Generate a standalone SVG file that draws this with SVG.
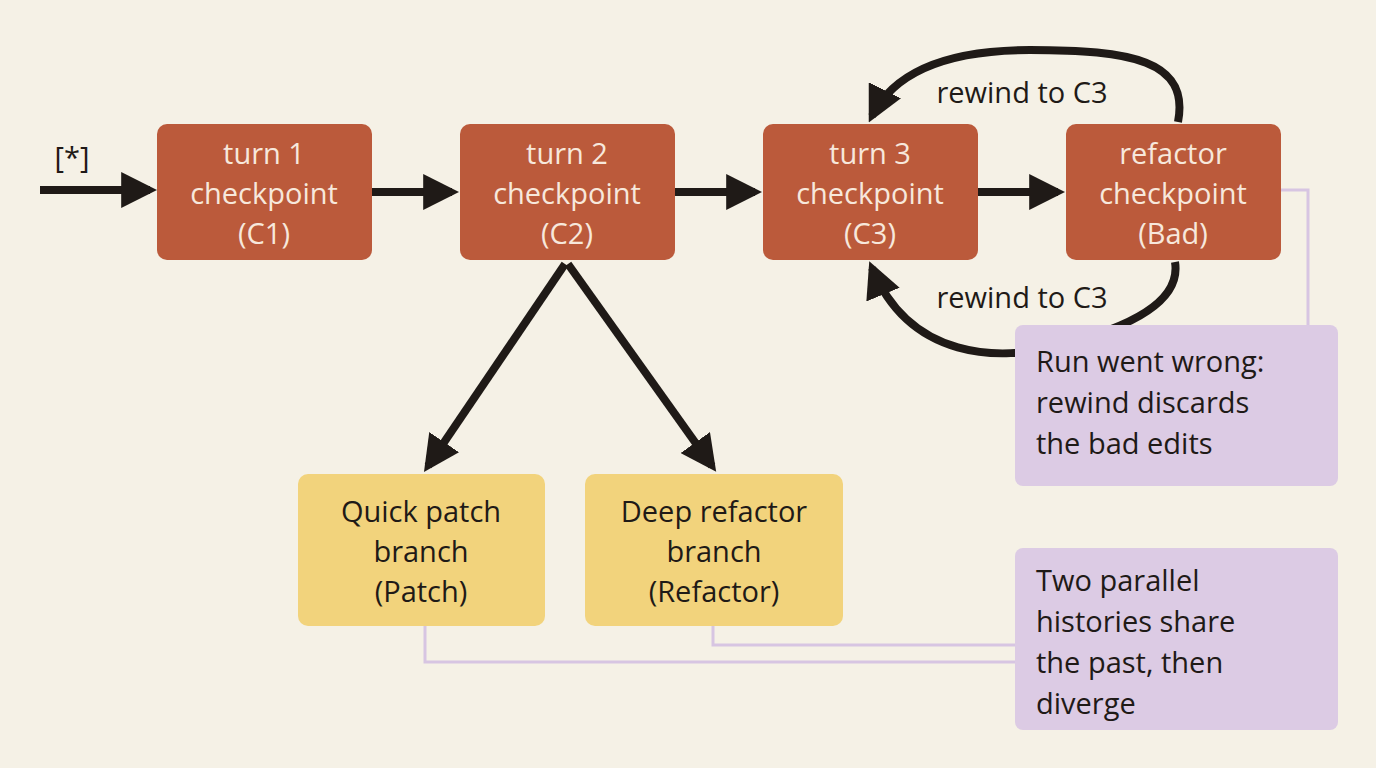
<svg xmlns="http://www.w3.org/2000/svg" width="1376" height="768" viewBox="0 0 1376 768">
<defs>
<marker id="ah" viewBox="0 0 10 10" refX="8" refY="5" markerWidth="4.5" markerHeight="4.5" orient="auto" markerUnits="strokeWidth"><path d="M0,0 L10,5 L0,10 z" fill="#1f1a17"/></marker>
<style>
.c{fill:#bb5a3b}.y{fill:#f2d37c}.n{fill:#dccbe4}
.t{font-family:"Open Sans","Liberation Sans",Arial,sans-serif;font-size:29px;text-anchor:middle}
.w{fill:#f7e8dc}.k{fill:#1f1a17}
.a{stroke:#1f1a17;stroke-width:8;fill:none;marker-end:url(#ah)}
.l{stroke:#d7c5e2;stroke-width:3;fill:none}
</style>
</defs>
<rect width="1376" height="768" fill="#f5f1e6"/>
<g id="connectors">
<path class="l" d="M1281,190 H1308 V325"/>
<path class="l" d="M425,626 V662 H1015"/>
<path class="l" d="M713,626 V645 H1015"/>
<path class="a" d="M40,190 H150"/>
<path class="a" d="M372,192 H452"/>
<path class="a" d="M675,192 H755"/>
<path class="a" d="M978,192 H1058"/>
<path class="a" d="M1178,122 C1190,60 1130,50 1030,50 C950,50 895,70 872,116"/>
<path class="a" d="M1175,262 C1182,305 1120,330 1060,345 C1000,362 910,360 872,268"/>
<path class="a" d="M565,264 L428,466"/>
<path class="a" d="M568,264 L712,466"/>
<text class="t k" x="72" y="168">[*]</text>
<text class="t k" x="1022" y="103">rewind to C3</text>
<text class="t k" x="1022" y="308">rewind to C3</text>
</g>
<g id="c1"><rect class="c" x="157" y="124" width="215" height="136" rx="10"/><text class="t w" x="264" y="164">turn 1</text><text class="t w" x="264" y="204">checkpoint</text><text class="t w" x="264" y="244">(C1)</text></g>
<g id="c2"><rect class="c" x="460" y="124" width="215" height="136" rx="10"/><text class="t w" x="567" y="164">turn 2</text><text class="t w" x="567" y="204">checkpoint</text><text class="t w" x="567" y="244">(C2)</text></g>
<g id="c3"><rect class="c" x="763" y="124" width="215" height="136" rx="10"/><text class="t w" x="870" y="164">turn 3</text><text class="t w" x="870" y="204">checkpoint</text><text class="t w" x="870" y="244">(C3)</text></g>
<g id="bad"><rect class="c" x="1066" y="124" width="215" height="136" rx="10"/><text class="t w" x="1173" y="164">refactor</text><text class="t w" x="1173" y="204">checkpoint</text><text class="t w" x="1173" y="244">(Bad)</text></g>
<g id="patch"><rect class="y" x="298" y="474" width="247" height="152" rx="10"/><text class="t k" x="421" y="522">Quick patch</text><text class="t k" x="421" y="562">branch</text><text class="t k" x="421" y="602">(Patch)</text></g>
<g id="refactor"><rect class="y" x="585" y="474" width="258" height="152" rx="10"/><text class="t k" x="714" y="522">Deep refactor</text><text class="t k" x="714" y="562">branch</text><text class="t k" x="714" y="602">(Refactor)</text></g>
<g id="note1"><rect class="n" x="1015" y="325" width="323" height="161" rx="8"/><text class="t k" x="1036" y="372" style="text-anchor:start">Run went wrong:</text><text class="t k" x="1036" y="413" style="text-anchor:start">rewind discards</text><text class="t k" x="1036" y="454" style="text-anchor:start">the bad edits</text></g>
<g id="note2"><rect class="n" x="1015" y="548" width="323" height="182" rx="8"/><text class="t k" x="1036" y="591" style="text-anchor:start">Two parallel</text><text class="t k" x="1036" y="632" style="text-anchor:start">histories share</text><text class="t k" x="1036" y="673" style="text-anchor:start">the past, then</text><text class="t k" x="1036" y="714" style="text-anchor:start">diverge</text></g>
</svg>
